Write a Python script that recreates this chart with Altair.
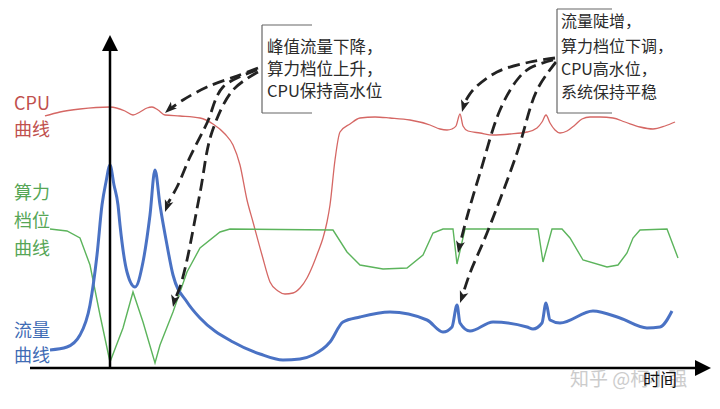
import altair as alt
import pandas as pd

# ---- curve data (in picture coordinates) ----
cpu_x = [45, 60, 80, 110, 125, 133, 140, 147, 152, 158, 165, 180, 200, 213, 225, 233, 240, 247, 253, 262,
         270, 278, 285, 293, 300, 307, 313, 318, 323, 327, 330, 335, 340, 350, 360, 375, 390, 410, 430, 440,
         447, 452, 456, 460, 463, 468, 480, 493, 510, 527, 537, 542, 546, 550, 555, 560, 567, 575, 582, 590,
         600, 613, 625, 640, 653, 665, 675]
cpu_y = [116, 112, 109, 107, 111, 115, 112, 108, 107, 110, 115, 116, 118, 124, 134, 145, 165, 200, 222, 255,
         282, 291, 294, 293, 288, 278, 265, 252, 238, 222, 205, 160, 132, 124, 118, 117, 118, 120, 125, 129,
         130, 129, 126, 114, 126, 131, 133, 135, 134, 132, 128, 122, 115, 123, 130, 133, 131, 125, 119, 117,
         117, 118, 122, 127, 129, 126, 122]

gear_x = [50, 67, 80, 90, 100, 110, 123, 133, 143, 155, 160, 173, 187, 200, 220, 230, 333, 347, 360, 383,
          407, 423, 433, 443, 453, 457, 465, 538, 543, 552, 562, 570, 583, 607, 618, 627, 633, 640, 667, 678]
gear_y = [229, 231, 238, 265, 315, 362, 328, 292, 322, 363, 345, 312, 272, 248, 232, 229, 230, 252, 265, 269,
          268, 255, 233, 229, 229, 264, 229, 229, 262, 229, 229, 238, 260, 267, 265, 253, 238, 230, 229, 258]

flow_x = [50, 67, 80, 90, 97, 102, 106, 110, 114, 118, 120, 127, 135, 143, 150, 155, 160, 167, 173, 187,
          200, 233, 260, 283, 300, 313, 330, 343, 360, 390, 427, 443, 452, 457, 460, 470, 493, 527, 533, 542,
          546, 550, 560, 593, 620, 647, 660, 672]
flow_y = [350, 347, 335, 305, 255, 205, 182, 165, 185, 205, 225, 272, 287, 262, 215, 170, 205, 245, 275, 302,
          318, 342, 354, 360, 359, 355, 342, 322, 317, 312, 320, 332, 327, 305, 323, 331, 322, 327, 329, 323,
          303, 320, 323, 311, 318, 328, 327, 311]

# ---- annotation arrows (dashed) ----
arrow_paths = {
    "a1": [(258, 68), (237, 76), (207, 87), (183, 100), (170, 109)],
    "a2": [(257, 70), (223, 87), (207, 123), (190, 157), (177, 187), (168, 203)],
    "a3": [(258, 72), (233, 90), (212, 132), (200, 193), (187, 260), (180, 287), (175, 299)],
    "b1": [(555, 58), (530, 62), (497, 72), (473, 90), (464, 104)],
    "b2": [(553, 60), (530, 68), (517, 80), (500, 110), (480, 173), (467, 217), (460, 244)],
    "b3": [(556, 62), (537, 90), (517, 153), (487, 233), (470, 273), (463, 294)],
}
arrow_tips_x = [165, 165, 173, 462, 458, 460]
arrow_tips_y = [113, 212, 307, 112, 253, 303]
arrow_tips_angle = [228, 200, 192, 196, 192, 200]

box_lines = [  # x, y, x2, y2
    (262, 25, 312, 25), (262, 25, 262, 113), (262, 113, 312, 113),
    (557, 9, 612, 9), (557, 9, 557, 113), (557, 113, 612, 113),
]
box1_text = ["峰值流量下降，", "算力档位上升，", "CPU保持高水位"]
box1_y = [48, 70, 92]
box2_text = ["流量陡增，", "算力档位下调，", "CPU高水位，", "系统保持平稳"]
box2_y = [22, 47, 70, 93]

labels = [("CPU", 105, "#c0504d"), ("曲线", 131, "#c0504d"),
          ("算力", 194, "#56a656"), ("档位", 222, "#56a656"), ("曲线", 250, "#56a656"),
          ("流量", 332, "#3f6cb5"), ("曲线", 357, "#3f6cb5")]

FONT = "Noto Sans CJK SC"
X = alt.X("x:Q", scale=alt.Scale(domain=[8, 712], nice=False, zero=False), axis=None)
Y = alt.Y("y:Q", scale=alt.Scale(domain=[8, 401], nice=False, zero=False, reverse=True), axis=None)


def curve(xs, ys, color, width, interp):
    df = pd.DataFrame({"x": xs, "y": ys, "i": range(len(xs))})
    return alt.Chart(df).mark_line(color=color, strokeWidth=width, interpolate=interp).encode(
        x=X, y=Y, order="i:Q")


cpu = curve(cpu_x, cpu_y, "#d56764", 1.3, "monotone")
gear = curve(gear_x, gear_y, "#5cb45c", 1.4, "linear")
flow = curve(flow_x, flow_y, "#4a72c4", 3, "monotone")

# axes
axes_df = pd.DataFrame({"x": [110, 30], "y": [48, 368], "x2": [110, 696], "y2": [368, 368]})
axes = alt.Chart(axes_df).mark_rule(color="black", strokeWidth=2.5).encode(
    x=X, y=Y, x2="x2:Q", y2="y2:Q")
heads_df = pd.DataFrame({"x": [110, 711], "y": [35, 368], "a": [0, 90]})
heads = alt.Chart(heads_df).mark_point(
    shape="M0,0L8,16L-8,16Z", filled=True, color="black", opacity=1, size=4, strokeWidth=0
).encode(x=X, y=Y, angle=alt.Angle("a:Q", scale=None))

# dashed arrows
rows = []
for k, pts in arrow_paths.items():
    for i, (px, py) in enumerate(pts):
        rows.append({"k": k, "i": i, "x": px, "y": py})
arr = alt.Chart(pd.DataFrame(rows)).mark_line(
    color="#222222", strokeWidth=2.8, strokeDash=[12, 6], interpolate="catmull-rom"
).encode(x=X, y=Y, detail="k:N", order="i:Q")
tips = alt.Chart(pd.DataFrame({"x": arrow_tips_x, "y": arrow_tips_y, "a": arrow_tips_angle})).mark_point(
    shape="M0,0L4.5,12L0,9L-4.5,12Z", filled=True, color="#222222", opacity=1, size=4, strokeWidth=0
).encode(x=X, y=Y, angle=alt.Angle("a:Q", scale=None))

# bracket boxes
bl = pd.DataFrame(box_lines, columns=["x", "y", "x2", "y2"])
boxes = alt.Chart(bl).mark_rule(color="#666666", strokeWidth=1.2).encode(x=X, y=Y, x2="x2:Q", y2="y2:Q")

t1 = alt.Chart(pd.DataFrame({"t": box1_text, "y": box1_y, "x": [267] * 3})).mark_text(
    align="left", baseline="middle", font=FONT, fontSize=16.5, color="#2b2b2b").encode(x=X, y=Y, text="t:N")
t2 = alt.Chart(pd.DataFrame({"t": box2_text, "y": box2_y, "x": [561] * 4})).mark_text(
    align="left", baseline="middle", font=FONT, fontSize=16, color="#2b2b2b").encode(x=X, y=Y, text="t:N")

lab_df = pd.DataFrame({"t": [l[0] for l in labels], "y": [l[1] for l in labels],
                       "c": [l[2] for l in labels], "x": [14] * len(labels)})
labs = alt.Chart(lab_df).mark_text(align="left", baseline="middle", font=FONT, fontSize=18).encode(
    x=X, y=Y, text="t:N", color=alt.Color("c:N", scale=None))

wm = alt.Chart(pd.DataFrame({"t": ["知乎 @柯小强"], "x": [570], "y": [380]})).mark_text(
    align="left", baseline="middle", font=FONT, fontSize=19, color="#cccccc").encode(x=X, y=Y, text="t:N")
tlab = alt.Chart(pd.DataFrame({"t": ["时间"], "x": [643], "y": [381]})).mark_text(
    align="left", baseline="middle", font=FONT, fontSize=17, color="#111111").encode(x=X, y=Y, text="t:N")

chart = alt.layer(cpu, gear, flow, axes, heads, arr, tips, boxes, t1, t2, labs, wm, tlab).properties(
    width=704, height=393, padding=0, autosize=alt.AutoSizeParams(type="none"), background="white"
).configure_view(stroke=None)

chart.save("out.html", embed_options={"renderer": "svg", "actions": False})
